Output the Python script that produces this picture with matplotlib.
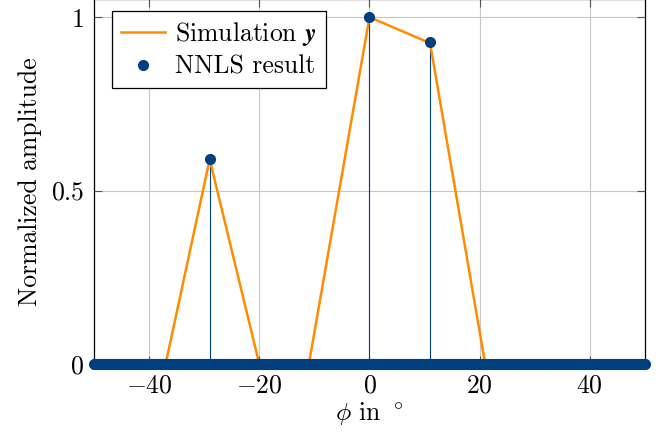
import numpy as np
import matplotlib
matplotlib.use("Agg")
import matplotlib.pyplot as plt

plt.rcParams['font.family'] = ['cmr10', 'DejaVu Serif']
plt.rcParams['mathtext.fontset'] = 'cm'
plt.rcParams['axes.formatter.use_mathtext'] = True
plt.rcParams['axes.unicode_minus'] = True

# Simulation y (piecewise linear)
sim_phi = [-50, -37, -29, -20, -11, 0, 11, 21, 50]
sim_amp = [0, 0, 0.59, 0, 0, 1.0, 0.925, 0, 0]

# NNLS result: dense angular grid, sparse non-zero entries
grid_phi = np.linspace(-50, 50, 501)
peak_phi = [-29, 0, 11]
peak_amp = [0.592, 1.0, 0.928]

nnls = np.zeros_like(grid_phi)
for p, a in zip(peak_phi, peak_amp):
    nnls[np.argmin(np.abs(grid_phi - p))] = a

xticks = [-40, -20, 0, 20, 40]
yticks = [0, 0.5, 1]
ytick_labels = ['0', '0.5', '1']

blue = '#00407f'
orange = '#ff8c00'
fs = 18.5

fig = plt.figure(figsize=(6.6, 4.38), dpi=100)
ax = fig.add_axes([0.1424, 0.169, 0.8348, 0.833])

ax.vlines(grid_phi, 0, nnls, color=blue, lw=0.8, zorder=3)
ax.plot(sim_phi, sim_amp, color=orange, lw=1.8, zorder=4, label=r'Simulation $\boldsymbol{y}$')
ax.plot(grid_phi, nnls, ls='none', marker='o', ms=7, color=blue, mec=blue,
        zorder=5, clip_on=False, label='NNLS result')

ax.set_xlim(-50, 50)
ax.set_ylim(0, 1.052)
ax.set_xticks(xticks)
ax.set_yticks(yticks)
ax.set_yticklabels([f'${t}$' for t in ytick_labels])
ax.tick_params(direction='in', length=6, width=0.8, top=True, right=True,
               labelsize=fs, pad=7, color='#555555')
ax.grid(True, color='#c8c8c8', lw=0.8)
ax.set_axisbelow(True)
for s in ax.spines.values():
    s.set_linewidth(0.9)

ax.set_xlabel(r'$\phi$ in $^\circ$', fontsize=fs, labelpad=2)
ax.set_ylabel('Normalized amplitude', fontsize=fs, labelpad=6)

leg = ax.legend(loc='upper left', bbox_to_anchor=(0.033, 0.967), fontsize=fs,
                fancybox=False, edgecolor='black', framealpha=1,
                handlelength=1.7, borderpad=0.36, labelspacing=0.25,
                handletextpad=0.4, borderaxespad=0)
leg.get_frame().set_linewidth(0.9)

fig.savefig('out.png', dpi=100)
